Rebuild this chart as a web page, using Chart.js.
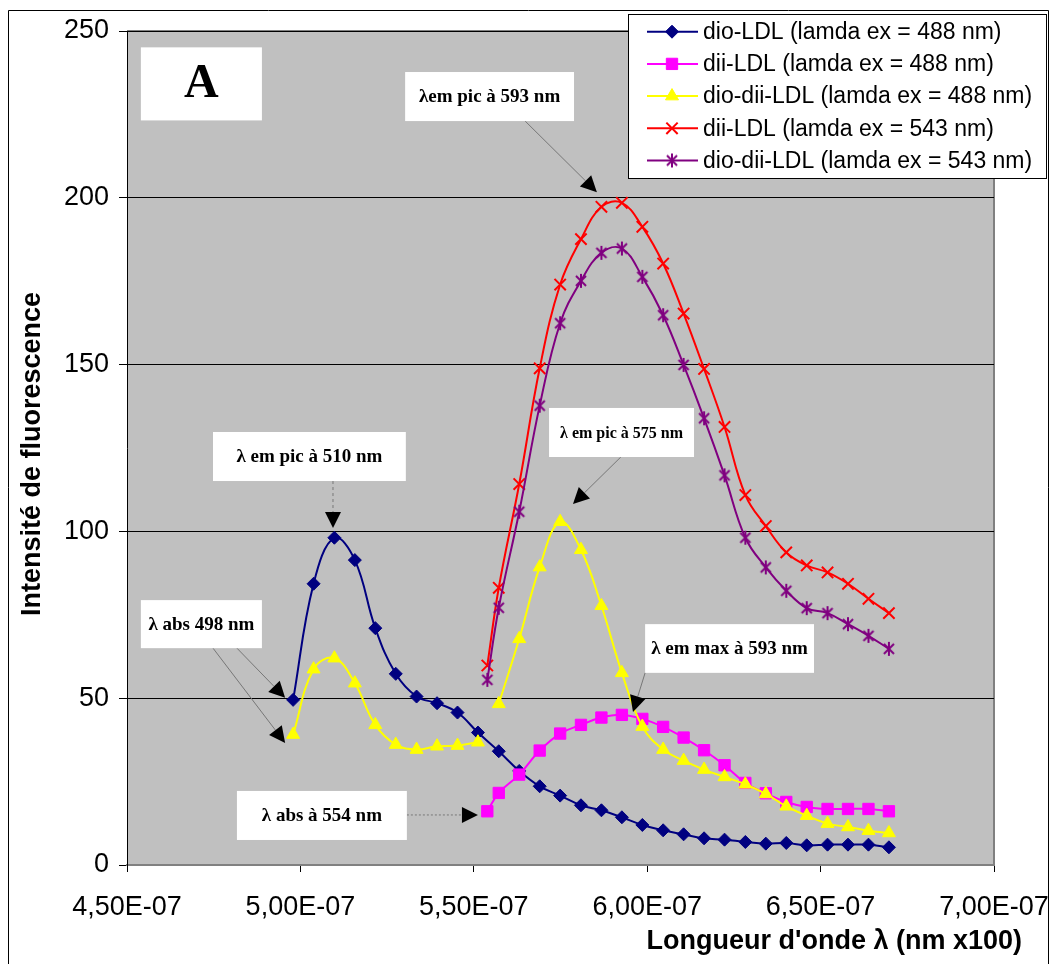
<!DOCTYPE html>
<html>
<head>
<meta charset="utf-8">
<script src="https://cdn.jsdelivr.net/npm/chart.js@4.4.1/dist/chart.umd.min.js"></script>
<style>
  html, body { margin: 0; padding: 0; background: #fff; }
  #wrap { width: 1052px; height: 964px; }
</style>
</head>
<body>
<div id="wrap"><canvas id="c" width="1052" height="964"></canvas></div>
<script>
// longueurs d'onde (nm)
const lambdaAll = [497.9, 503.8, 509.8, 515.7, 521.6, 527.5, 533.5, 539.4, 545.3, 551.2,
  557.2, 563.1, 569.0, 574.9, 580.9, 586.8, 592.7, 598.6, 604.6, 610.5,
  616.4, 622.3, 628.3, 634.2, 640.1, 646.0, 652.0, 657.9, 663.8, 669.7];
const lambdaFrom554 = [553.9, 557.2, 563.1, 569.0, 574.9, 580.9, 586.8, 592.7, 598.6, 604.6,
  610.5, 616.4, 622.3, 628.3, 634.2, 640.1, 646.0, 652.0, 657.9, 663.8, 669.7];
const lambdaYellow = [497.9, 503.8, 509.8, 515.7, 521.6, 527.5, 533.5, 539.4, 545.3, 551.2,
  553.9, 557.2, 563.1, 569.0, 574.9, 580.9, 586.8, 592.7, 598.6, 604.6, 610.5,
  616.4, 622.3, 628.3, 634.2, 640.1, 646.0, 652.0, 657.9, 663.8, 669.7];

// intensités
const dioLDL488 = [49.5, 84.3, 98.1, 91.4, 71.0, 57.3, 50.5, 48.5, 45.7, 39.7,
  34.1, 28.2, 23.6, 20.8, 17.9, 16.4, 14.3, 12.0, 10.4, 9.2,
  8.0, 7.6, 6.9, 6.4, 6.6, 5.9, 6.1, 6.1, 6.1, 5.3];
const diiLDL488 = [16.1, 21.6, 27.1, 34.3, 39.4, 42.0, 44.2, 45.0, 43.8, 41.4,
  38.2, 34.4, 29.9, 24.6, 21.5, 18.9, 17.4, 16.8, 16.8, 16.8, 16.1];
const dioDiiLDL488 = [39.1, 58.7, 62.0, 54.5, 42.0, 36.1, 34.6, 35.6, 35.8, 36.8,
  null, 48.3, 67.8, 89.3, 102.9, 94.5, 77.7, 57.6, 41.5, 34.6, 31.3,
  28.6, 26.4, 24.2, 21.3, 17.6, 14.8, 12.4, 11.4, 10.3, 9.6];
const diiLDL543 = [59.8, 83.1, 114.2, 148.9, 174.0, 187.6, 197.3, 198.5, 191.3, 180.3,
  165.3, 148.7, 131.3, 110.9, 101.6, 93.7, 89.8, 87.7, 84.3, 79.8, 75.5];
const dioDiiLDL543 = [55.5, 77.1, 105.9, 137.7, 162.4, 175.1, 183.5, 184.8, 176.3, 164.8,
  149.9, 133.9, 116.8, 98.1, 89.2, 82.2, 77.0, 75.5, 72.2, 68.7, 64.8];

const seriesNames = [
  "dio-LDL (lamda ex = 488 nm)",
  "dii-LDL (lamda ex = 488 nm)",
  "dio-dii-LDL (lamda ex = 488 nm)",
  "dii-LDL (lamda ex = 543 nm)",
  "dio-dii-LDL (lamda ex = 543 nm)"
];
const xTicks = [450, 500, 550, 600, 650, 700];
const yTicks = [0, 50, 100, 150, 200, 250];

// annotations en unités du graphique (nm, intensité)
const notes = [
  { text: "A", box: [454.0, 245.1, 488.9, 223.2], size: 48 },
  { text: "λem pic à 593 nm", box: [530.2, 237.7, 578.9, 223.0], arrows: [[564.8, 223.0, 585.5, 201.7]] },
  { text: "λ em pic à 510 nm", box: [474.8, 129.8, 530.4, 115.1], arrows: [[509.4, 115.1, 509.4, 101.0]], dash: [3, 3] },
  { text: "λ em pic à 575 nm", box: [571.7, 137.0, 613.5, 122.3], arrows: [[592.4, 122.3, 578.6, 108.2]], size: 16 },
  { text: "λ em max à 593 nm", box: [599.4, 72.2, 648.1, 57.6], arrows: [[599.4, 57.6, 595.9, 45.9]] },
  { text: "λ abs 498 nm", box: [454.0, 79.4, 488.9, 65.0], arrows: [[474.8, 65.0, 495.6, 36.6], [481.7, 65.0, 495.6, 50.1]] },
  { text: "λ abs à 554 nm", box: [481.7, 22.2, 530.7, 7.5], arrows: [[530.7, 15.0, 551.2, 15.0]], dash: [2, 2] }
];

function pts(xs, ys) { return xs.map((x, i) => ({ x: x, y: ys[i] })); }

function asterisk(color, r) {
  const c = document.createElement("canvas");
  const s = r * 2 + 2;
  c.width = s; c.height = s;
  const g = c.getContext("2d");
  g.strokeStyle = color; g.lineWidth = 2;
  const m = s / 2, d = r * 0.72;
  g.beginPath();
  g.moveTo(m - d, m - d); g.lineTo(m + d, m + d);
  g.moveTo(m + d, m - d); g.lineTo(m - d, m + d);
  g.moveTo(m, m - r); g.lineTo(m, m + r);
  g.stroke();
  return c;
}

const SANS = "'Liberation Sans', Arial, sans-serif";
const SERIF = "'Liberation Serif', 'Times New Roman', serif";

function ds(i, data, color, style, radius, bw) {
  return {
    label: seriesNames[i],
    data: data,
    borderColor: color,
    backgroundColor: color,
    borderWidth: 2,
    pointStyle: style,
    pointRadius: radius,
    pointBorderWidth: bw,
    pointBackgroundColor: color,
    pointBorderColor: color,
    tension: 0.4,
    spanGaps: false,
    order: 5 - i
  };
}

const datasets = [
  ds(0, pts(lambdaAll, dioLDL488), "#000080", "rectRot", 6.5, 1),
  ds(1, pts(lambdaFrom554, diiLDL488), "#FF00FF", "rect", 8, 1),
  ds(2, pts(lambdaYellow, dioDiiLDL488), "#FFFF00", "triangle", 7.5, 1),
  ds(3, pts(lambdaFrom554, diiLDL543), "#FF0000", "crossRot", 8, 2),
  ds(4, pts(lambdaFrom554, dioDiiLDL543), "#800080", asterisk("#800080", 7), 7, 2)
];

function drawArrow(ctx, x1, y1, x2, y2, dash) {
  const ang = Math.atan2(y2 - y1, x2 - x1), L = 16, W = 8;
  const bx = x2 - L * Math.cos(ang), by = y2 - L * Math.sin(ang);
  ctx.save();
  ctx.strokeStyle = "#777"; ctx.lineWidth = 1;
  ctx.setLineDash(dash || []);
  ctx.beginPath(); ctx.moveTo(x1, y1); ctx.lineTo(bx, by); ctx.stroke();
  ctx.setLineDash([]);
  ctx.fillStyle = "#000";
  ctx.beginPath();
  ctx.moveTo(x2, y2);
  ctx.lineTo(bx + W * Math.sin(ang), by - W * Math.cos(ang));
  ctx.lineTo(bx - W * Math.sin(ang), by + W * Math.cos(ang));
  ctx.closePath(); ctx.fill();
  ctx.restore();
}

const decor = {
  id: "decor",
  beforeDraw(chart) {
    const { ctx, chartArea: a } = chart;
    ctx.save();
    ctx.fillStyle = "#C0C0C0";
    ctx.fillRect(a.left, a.top, a.right - a.left, a.bottom - a.top);
    ctx.strokeStyle = "#808080"; ctx.lineWidth = 2;
    ctx.beginPath();
    ctx.moveTo(a.left, a.top); ctx.lineTo(a.right, a.top); ctx.lineTo(a.right, a.bottom);
    ctx.stroke();
    ctx.restore();
  },
  afterDraw(chart) {
    const { ctx } = chart;
    const sx = chart.scales.x, sy = chart.scales.y;

    // annotations
    notes.forEach(n => {
      const x1 = sx.getPixelForValue(n.box[0]), y1 = sy.getPixelForValue(n.box[1]);
      const x2 = sx.getPixelForValue(n.box[2]), y2 = sy.getPixelForValue(n.box[3]);
      (n.arrows || []).forEach(ar => {
        drawArrow(ctx, sx.getPixelForValue(ar[0]), sy.getPixelForValue(ar[1]),
          sx.getPixelForValue(ar[2]), sy.getPixelForValue(ar[3]), n.dash);
      });
      ctx.save();
      ctx.fillStyle = "#fff";
      ctx.fillRect(x1, y1, x2 - x1, y2 - y1);
      ctx.fillStyle = "#000";
      ctx.font = "bold " + (n.size || 19) + "px " + SERIF;
      ctx.textAlign = "center"; ctx.textBaseline = "middle";
      ctx.fillText(n.text, (x1 + x2) / 2, (y1 + y2) / 2 + 1);
      ctx.restore();
    });

    // légende
    ctx.save();
    ctx.fillStyle = "#fff";
    ctx.fillRect(628, 14, 418, 164);
    ctx.strokeStyle = "#000"; ctx.lineWidth = 1;
    ctx.strokeRect(628.5, 14.5, 418, 164);
    chart.data.datasets.forEach((d, i) => {
      const y = 31.7 + i * 32.2;
      ctx.strokeStyle = d.borderColor; ctx.lineWidth = 2;
      ctx.beginPath(); ctx.moveTo(647, y); ctx.lineTo(698, y); ctx.stroke();
      ctx.fillStyle = d.pointBackgroundColor; ctx.strokeStyle = d.pointBorderColor;
      ctx.lineWidth = d.pointBorderWidth;
      Chart.helpers.drawPoint(ctx, { pointStyle: d.pointStyle, radius: d.pointRadius, rotation: 0, borderWidth: d.pointBorderWidth }, 672, y);
      ctx.fillStyle = "#000";
      ctx.font = "23px " + SANS;
      ctx.textAlign = "left"; ctx.textBaseline = "middle";
      ctx.fillText(d.label, 703, y + 1);
    });
    ctx.restore();

    // titres des axes
    ctx.save();
    ctx.fillStyle = "#000";
    ctx.font = "bold 27px " + SANS;
    ctx.textAlign = "right"; ctx.textBaseline = "middle";
    ctx.fillText("Longueur d'onde λ (nm x100)", 1022, 942);
    ctx.translate(33, 454);
    ctx.rotate(-Math.PI / 2);
    ctx.textAlign = "center";
    ctx.fillText("Intensité de fluorescence", 0, 0);
    ctx.restore();

    // cadre extérieur
    ctx.save();
    ctx.strokeStyle = "#000"; ctx.lineWidth = 1;
    ctx.beginPath();
    ctx.moveTo(8.5, 964); ctx.lineTo(8.5, 10.5); ctx.lineTo(1048.5, 10.5); ctx.lineTo(1048.5, 964);
    ctx.stroke();
    ctx.restore();
  }
};

function fmtExp(v) {
  return (v / 100).toFixed(2).replace(".", ",") + "E-07";
}

new Chart(document.getElementById("c"), {
  type: "line",
  data: { datasets: datasets },
  options: {
    responsive: false,
    animation: false,
    events: [],
    layout: { padding: { left: 0, top: 31, right: 58, bottom: 0 } },
    plugins: { legend: { display: false }, tooltip: { enabled: false } },
    scales: {
      x: {
        type: "linear",
        min: xTicks[0], max: xTicks[xTicks.length - 1],
        afterBuildTicks: s => { s.ticks = xTicks.map(v => ({ value: v })); },
        afterFit: s => { s.height = 99; s.paddingLeft = 0; s.paddingRight = 0; },
        ticks: { callback: v => fmtExp(v), color: "#000", font: { family: SANS, size: 27 }, padding: 19, maxRotation: 0, autoSkip: false },
        grid: { drawOnChartArea: false, color: "#000", tickLength: 7 },
        border: { color: "#808080", width: 2 }
      },
      y: {
        type: "linear",
        min: yTicks[0], max: yTicks[yTicks.length - 1],
        afterBuildTicks: s => { s.ticks = yTicks.map(v => ({ value: v })); },
        afterFit: s => { s.width = 127; s.paddingTop = 0; s.paddingBottom = 0; },
        ticks: { color: "#000", font: { family: SANS, size: 27 }, padding: 10 },
        grid: { color: "#000", lineWidth: 1, tickLength: 8 },
        border: { color: "#000", width: 1 }
      }
    }
  },
  plugins: [decor]
});
</script>
</body>
</html>
